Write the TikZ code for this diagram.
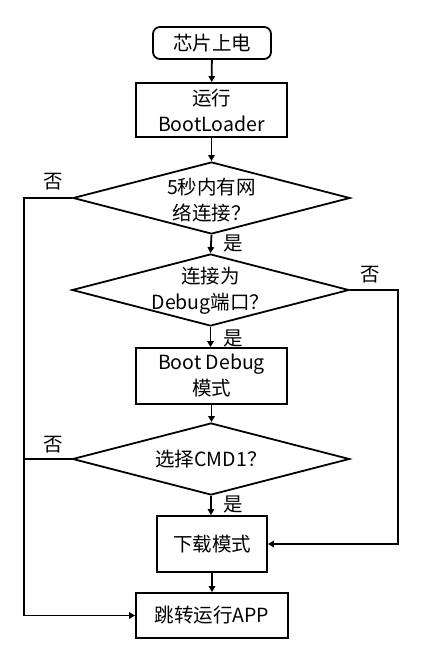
\documentclass[tikz,border=0pt]{standalone}
\usepackage{fontspec}
\setmainfont{Noto Sans CJK SC}
\usetikzlibrary{arrows.meta,shapes.geometric}
\begin{document}
\begin{tikzpicture}[x=1pt,y=-1pt,
  every node/.style={font=\fontsize{19.5}{26}\selectfont},
  box/.style={draw,line width=1.8pt,inner sep=0pt,align=center},
  dia/.style={draw,line width=1.8pt,diamond,inner sep=0pt,minimum width=277pt,minimum height=72pt},
  txt/.style={align=center,inner sep=0pt},
  lab/.style={inner sep=0pt},
  line/.style={line width=1.8pt},
  arr/.style={line width=1.8pt,-{Triangle[length=6pt,width=6.5pt]}}]
\useasboundingbox (0,0) rectangle (431,656);
\node[box,rounded corners=7pt,minimum width=118pt,minimum height=32pt] (start) at (212,43) {芯片上电};
\node[box,minimum width=151pt,minimum height=54pt] (boot) at (211.5,110) {运行\\BootLoader};
\node[dia] (d1) at (211.5,198) {};
\node[txt] (t1) at (211.5,200) {5秒内有网\\络连接？};
\node[dia] (d2) at (210.5,290) {};
\node[txt] (t2) at (210.5,291) {连接为\\Debug端口？};
\node[box,minimum width=151pt,minimum height=56pt] (dbg) at (211.5,376) {Boot Debug\\模式};
\node[dia] (d3) at (211,459) {};
\node[txt] (t3) at (211,459) {选择CMD1？};
\node[box,minimum width=110pt,minimum height=56pt] (dl) at (212,544) {下载模式};
\node[box,minimum width=152pt,minimum height=45pt] (app) at (212,615.5) {跳转运行APP};
\coordinate (L) at (24,198);
\coordinate (R) at (398,290);
\draw[arr] (start) -- (boot);
\draw[arr] (boot) -- (boot |- d1.north);
\draw[arr] (d1.south) -- (d2.north);
\draw[arr] (d2.south) -- (d2.south |- dbg.north);
\draw[arr] (dbg.south) -- (dbg.south |- d3.north);
\draw[arr] (d3.south) -- (d3.south |- dl.north);
\draw[arr] (dl) -- (app);
\draw[arr] (d1.west) -- (L) |- (app.west);
\draw[line] (d3.west) -- (d3.west -| L);
\draw[arr] (d2.east) -- (R) |- (dl.east);
\node[lab] (n1) at (53,182) {否};
\node[lab] (y1) at (233,243) {是};
\node[lab] (n2) at (370,275) {否};
\node[lab] (y2) at (233,338) {是};
\node[lab] (n3) at (53,445) {否};
\node[lab] (y3) at (233,504) {是};
\end{tikzpicture}
\end{document}
